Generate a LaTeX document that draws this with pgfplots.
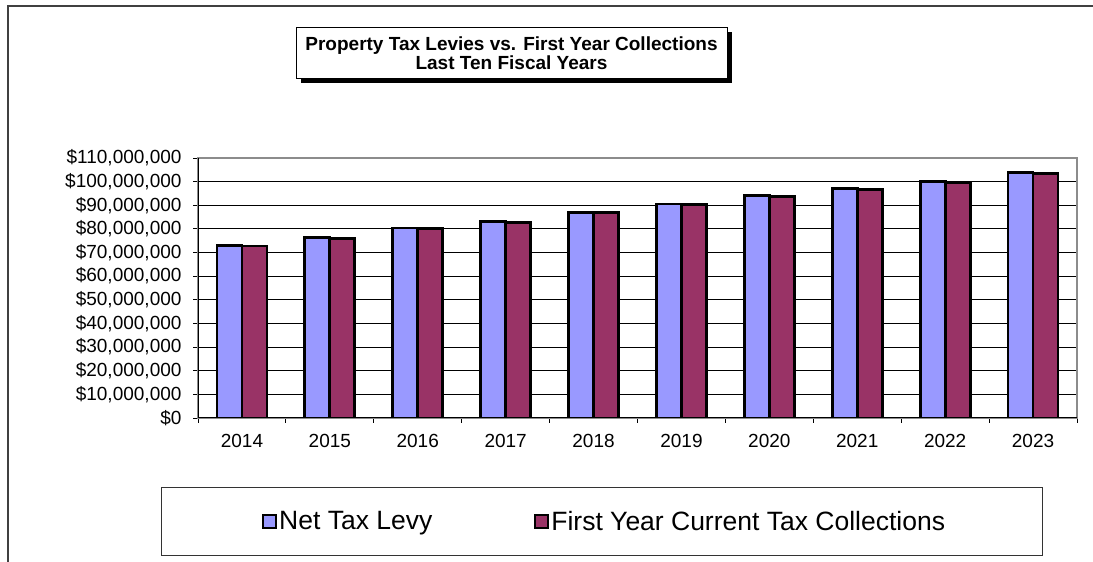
\documentclass[border=0pt]{standalone}
\usepackage{pgfplots}
\pgfplotsset{compat=1.18}
\usepackage{fontspec}
\setmainfont{Liberation Sans}
\definecolor{levy}{HTML}{9999FF}
\definecolor{coll}{HTML}{993366}
\begin{document}
\begin{tikzpicture}
\useasboundingbox (0pt,0pt) rectangle (1093pt,562pt);
% outer frame (top and left)
\draw[color=black!75,line width=1.2pt] (8pt,-1pt) -- (8pt,556pt) -- (1094pt,556pt);
% title box with shadow
\fill[black] (301pt,479pt) rectangle (732pt,530pt);
\draw[fill=white,draw=black,line width=0.8pt] (296pt,484pt) rectangle (727pt,535pt);
\node[align=center,font=\fontsize{19}{19}\selectfont\bfseries] at (511.5pt,509pt)
  {Property Tax Levies vs. First Year Collections\\Last Ten Fiscal Years};
% legend frame
\draw[black!80,line width=0.9pt] (161pt,7pt) rectangle (1042pt,75pt);
\begin{axis}[
  at={(198pt,144pt)}, anchor=south west,
  scale only axis, width=879pt, height=260pt,
  ybar=0pt, bar width=25pt,
  xmin=-0.5, xmax=9.5,
  ymin=0, ymax=110000000,
  scaled y ticks=false,
  xtick={0,1,2,3,4,5,6,7,8,9},
  xticklabels={2014,2015,2016,2017,2018,2019,2020,2021,2022,2023},
  minor xtick={-0.5,0.5,1.5,2.5,3.5,4.5,5.5,6.5,7.5,8.5,9.5},
  major x tick style={draw=none},
  xtick pos=bottom, ytick pos=left,
  tick align=outside,
  major tick length=5pt, minor tick length=5pt,
  every tick/.style={black,line width=0.9pt},
  ytick={0,10000000,20000000,30000000,40000000,50000000,60000000,70000000,80000000,90000000,100000000,110000000},
  yticklabels={\$0,{\$10,000,000},{\$20,000,000},{\$30,000,000},{\$40,000,000},{\$50,000,000},{\$60,000,000},{\$70,000,000},{\$80,000,000},{\$90,000,000},{\$100,000,000},{\$110,000,000}},
  ymajorgrids,
  major grid style={black,line width=0.9pt},
  axis line style={draw=black!45,line width=1.5pt},
  tick label style={font=\fontsize{19}{22}\selectfont},
  yticklabel style={xshift=-8pt},
  xticklabel style={yshift=-8pt},
  every axis plot/.append style={line width=2.8pt},
  legend style={at={(0.0728,-0.398)}, anchor=west, draw=none, fill=none, inner sep=0pt,
    font=\fontsize{26.5}{29}\selectfont, legend columns=2,
    /tikz/every even column/.append style={column sep=100pt}},
  legend cell align=left,
  legend image code/.code={\draw[#1,line width=2pt] (0pt,-6.5pt) rectangle (13pt,6.5pt);},
]
\addplot[fill=levy,draw=black,line width=2.8pt] coordinates {
 (0,73100000) (1,76300000) (2,80400000) (3,83100000) (4,87000000)
 (5,90500000) (6,94200000) (7,97200000) (8,100000000) (9,104000000)};
\addlegendentry{Net Tax Levy}
\addplot[fill=coll,draw=black,line width=2.8pt] coordinates {
 (0,72800000) (1,76100000) (2,80300000) (3,82800000) (4,86900000)
 (5,90300000) (6,93800000) (7,96800000) (8,99400000) (9,103500000)};
\addlegendentry{First Year Current Tax Collections}
\draw[black,line width=1.2pt] (rel axis cs:0,1) -- (rel axis cs:0,0) -- (rel axis cs:1,0);
\end{axis}
\end{tikzpicture}
\end{document}
